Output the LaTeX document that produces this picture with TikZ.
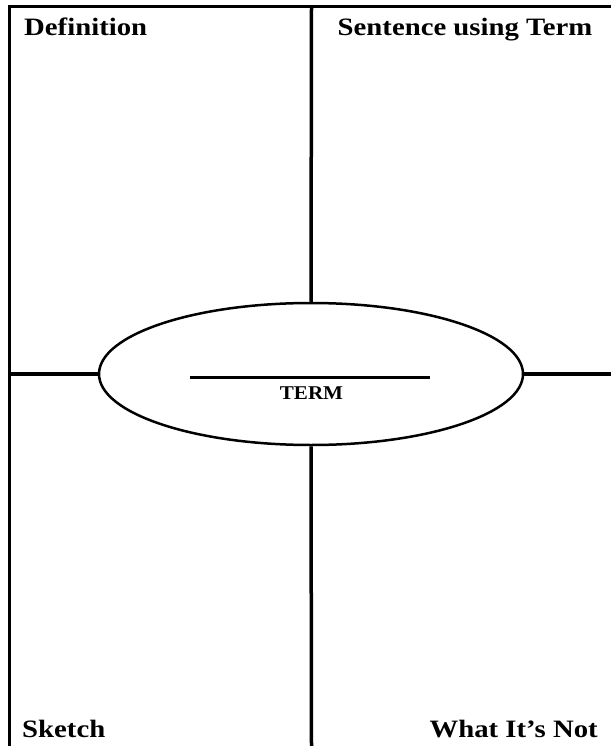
\documentclass[tikz,border=0pt]{standalone}
\usepackage{fontspec}
\setmainfont{Liberation Serif}
\newfontfamily\headfont[FakeStretch=1.15]{Liberation Serif}
\newfontfamily\termfont[FakeStretch=1.08]{Liberation Serif}
\usetikzlibrary{shapes.geometric}
\tikzset{
  rule/.style={black, line width=3.5pt},
  corner/.style={inner sep=0pt, font=\headfont\fontsize{25}{25}\selectfont\bfseries},
}

\begin{document}
\begin{tikzpicture}[x=1pt, y=-1pt, line cap=butt, line join=miter]
  \useasboundingbox (0,0) rectangle (611,746);
  % frame
  \coordinate (tl) at (9.5,6.5); \coordinate (tr) at (611,6.5); \coordinate (bl) at (9.5,746);
  \draw[rule] (tr) -- (tl) -- (bl);
  % centre oval
  \node[ellipse, draw, line width=2.5pt, minimum width=424pt, minimum height=142pt, inner sep=0pt] (term) at (311,374) {};
  \coordinate (ml) at (9.5,374); \coordinate (mr) at (611,374);
  \coordinate (tm) at (311.5,6.5); \coordinate (bm) at (311.5,746);
  \draw[rule] (ml) -- (term.west) (term.east) -- (mr);
  \draw[rule] (tm) -- (term.north) (term.south) -- (bm);
  % blank for the term
  \coordinate (b1) at (190,377.5); \coordinate (b2) at (430,377.5);
  \draw[black, line width=3pt] (b1) -- (b2);
  \node[inner sep=0pt, anchor=base, font=\termfont\fontsize{19.5}{19.5}\selectfont\bfseries] (termtext) at (311.5,399) {TERM};
  % corner labels
  \node[corner, anchor=base west] (defn) at (24,36) {Definition};
  \node[corner, anchor=base west] (sent) at (337.5,36) {Sentence using Term};
  \node[corner, anchor=base west] (sketch) at (22,737) {Sketch};
  \node[corner, anchor=base east] (notit) at (598,737) {What It’s Not};
\end{tikzpicture}
\end{document}
